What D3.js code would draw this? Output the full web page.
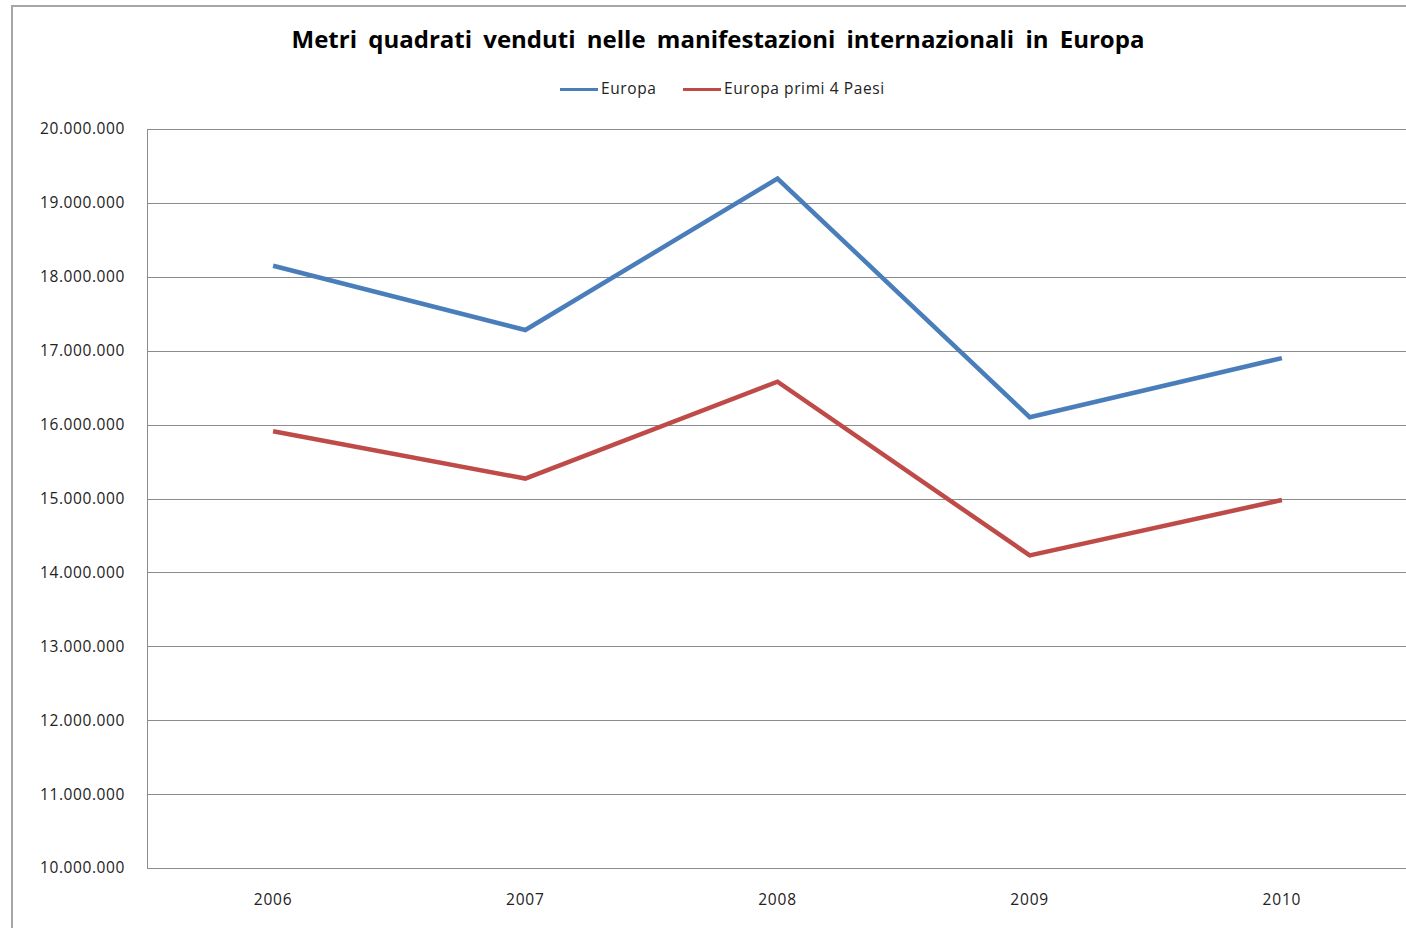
<!DOCTYPE html>
<html>
<head>
<meta charset="utf-8">
<script src="https://cdn.jsdelivr.net/npm/d3@7"></script>
<style>
  body { margin: 0; background: #fff; }
  svg { display: block; font-family: "Open Sans", "Noto Sans", sans-serif; }
</style>
</head>
<body>
<div id="chart"></div>
<script>
// data
var years = ["2006", "2007", "2008", "2009", "2010"];
var europa = [18150000, 17280000, 19330000, 16100000, 16900000];
var europaPrimi4 = [15910000, 15270000, 16580000, 14230000, 14980000];
var seriesNames = ["Europa", "Europa primi 4 Paesi"];
var seriesColors = ["#4a7ebb", "#be4b48"];
var yTicks = [10000000, 11000000, 12000000, 13000000, 14000000, 15000000,
              16000000, 17000000, 18000000, 19000000, 20000000];

var width = 1406, height = 928;
var margin = { top: 129, right: -2, bottom: 60, left: 147 };

var svg = d3.select("#chart")
    .append("svg")
    .attr("width", width)
    .attr("height", height);

// outer frame
svg.append("rect")
    .attr("x", 12).attr("y", 6)
    .attr("width", width).attr("height", height)
    .attr("fill", "none")
    .attr("stroke", "#a6a6a6")
    .attr("stroke-width", 2);

var x = d3.scaleBand()
    .domain(years)
    .range([margin.left, width - margin.right]);

var y = d3.scaleLinear()
    .domain([10000000, 20000000])
    .range([height - margin.bottom, margin.top]);

var fmt = d3.formatLocale({ decimal: ",", thousands: ".", grouping: [3], currency: ["", "€"] }).format(",");

// grid
svg.append("g")
    .selectAll("line")
    .data(yTicks)
    .enter()
    .append("line")
    .attr("x1", margin.left)
    .attr("x2", width)
    .attr("y1", function(d) { return Math.round(y(d)) + 0.5; })
    .attr("y2", function(d) { return Math.round(y(d)) + 0.5; })
    .attr("stroke", "#8c8c8c")
    .attr("stroke-width", 1);

// left axis line of plot area
svg.append("line")
    .attr("x1", margin.left + 0.5).attr("x2", margin.left + 0.5)
    .attr("y1", y(20000000)).attr("y2", y(10000000))
    .attr("stroke", "#8c8c8c");

// y labels
svg.append("g")
    .selectAll("text")
    .data(yTicks)
    .enter()
    .append("text")
    .attr("x", 125)
    .attr("y", function(d) { return y(d); })
    .attr("dy", "0.35em")
    .attr("text-anchor", "end")
    .attr("font-size", 15.5)
    .attr("letter-spacing", 0.6)
    .attr("fill", "#222")
    .text(function(d) { return fmt(d); });

// x labels
svg.append("g")
    .selectAll("text")
    .data(years)
    .enter()
    .append("text")
    .attr("x", function(d) { return x(d) + x.bandwidth() / 2; })
    .attr("y", 900)
    .attr("dy", "0.35em")
    .attr("text-anchor", "middle")
    .attr("font-size", 15.5)
    .attr("letter-spacing", 0.8)
    .attr("fill", "#222")
    .text(function(d) { return d; });

// lines
var line = d3.line()
    .x(function(d, i) { return x(years[i]) + x.bandwidth() / 2; })
    .y(function(d) { return y(d); });

[europa, europaPrimi4].forEach(function(s, i) {
    svg.append("path")
        .datum(s)
        .attr("d", line)
        .attr("fill", "none")
        .attr("stroke", seriesColors[i])
        .attr("stroke-width", 4.5)
        .attr("stroke-linejoin", "miter");
});

// title
svg.append("text")
    .attr("x", 718)
    .attr("y", 40)
    .attr("dy", "0.35em")
    .attr("text-anchor", "middle")
    .attr("font-size", 24)
    .attr("font-weight", "bold")
    .attr("word-spacing", 5)
    .attr("fill", "#000")
    .text("Metri quadrati venduti nelle manifestazioni internazionali in Europa");

// legend
var legendX = [560, 683];
var legend = svg.append("g");
seriesNames.forEach(function(name, i) {
    legend.append("line")
        .attr("x1", legendX[i]).attr("x2", legendX[i] + 38)
        .attr("y1", 89.5).attr("y2", 89.5)
        .attr("stroke", seriesColors[i])
        .attr("stroke-width", 3);
    legend.append("text")
        .attr("x", legendX[i] + 41)
        .attr("y", 89)
        .attr("dy", "0.35em")
        .attr("font-size", 15.5)
        .attr("letter-spacing", 0.6)
        .attr("fill", "#222")
        .text(name);
});
</script>
</body>
</html>
